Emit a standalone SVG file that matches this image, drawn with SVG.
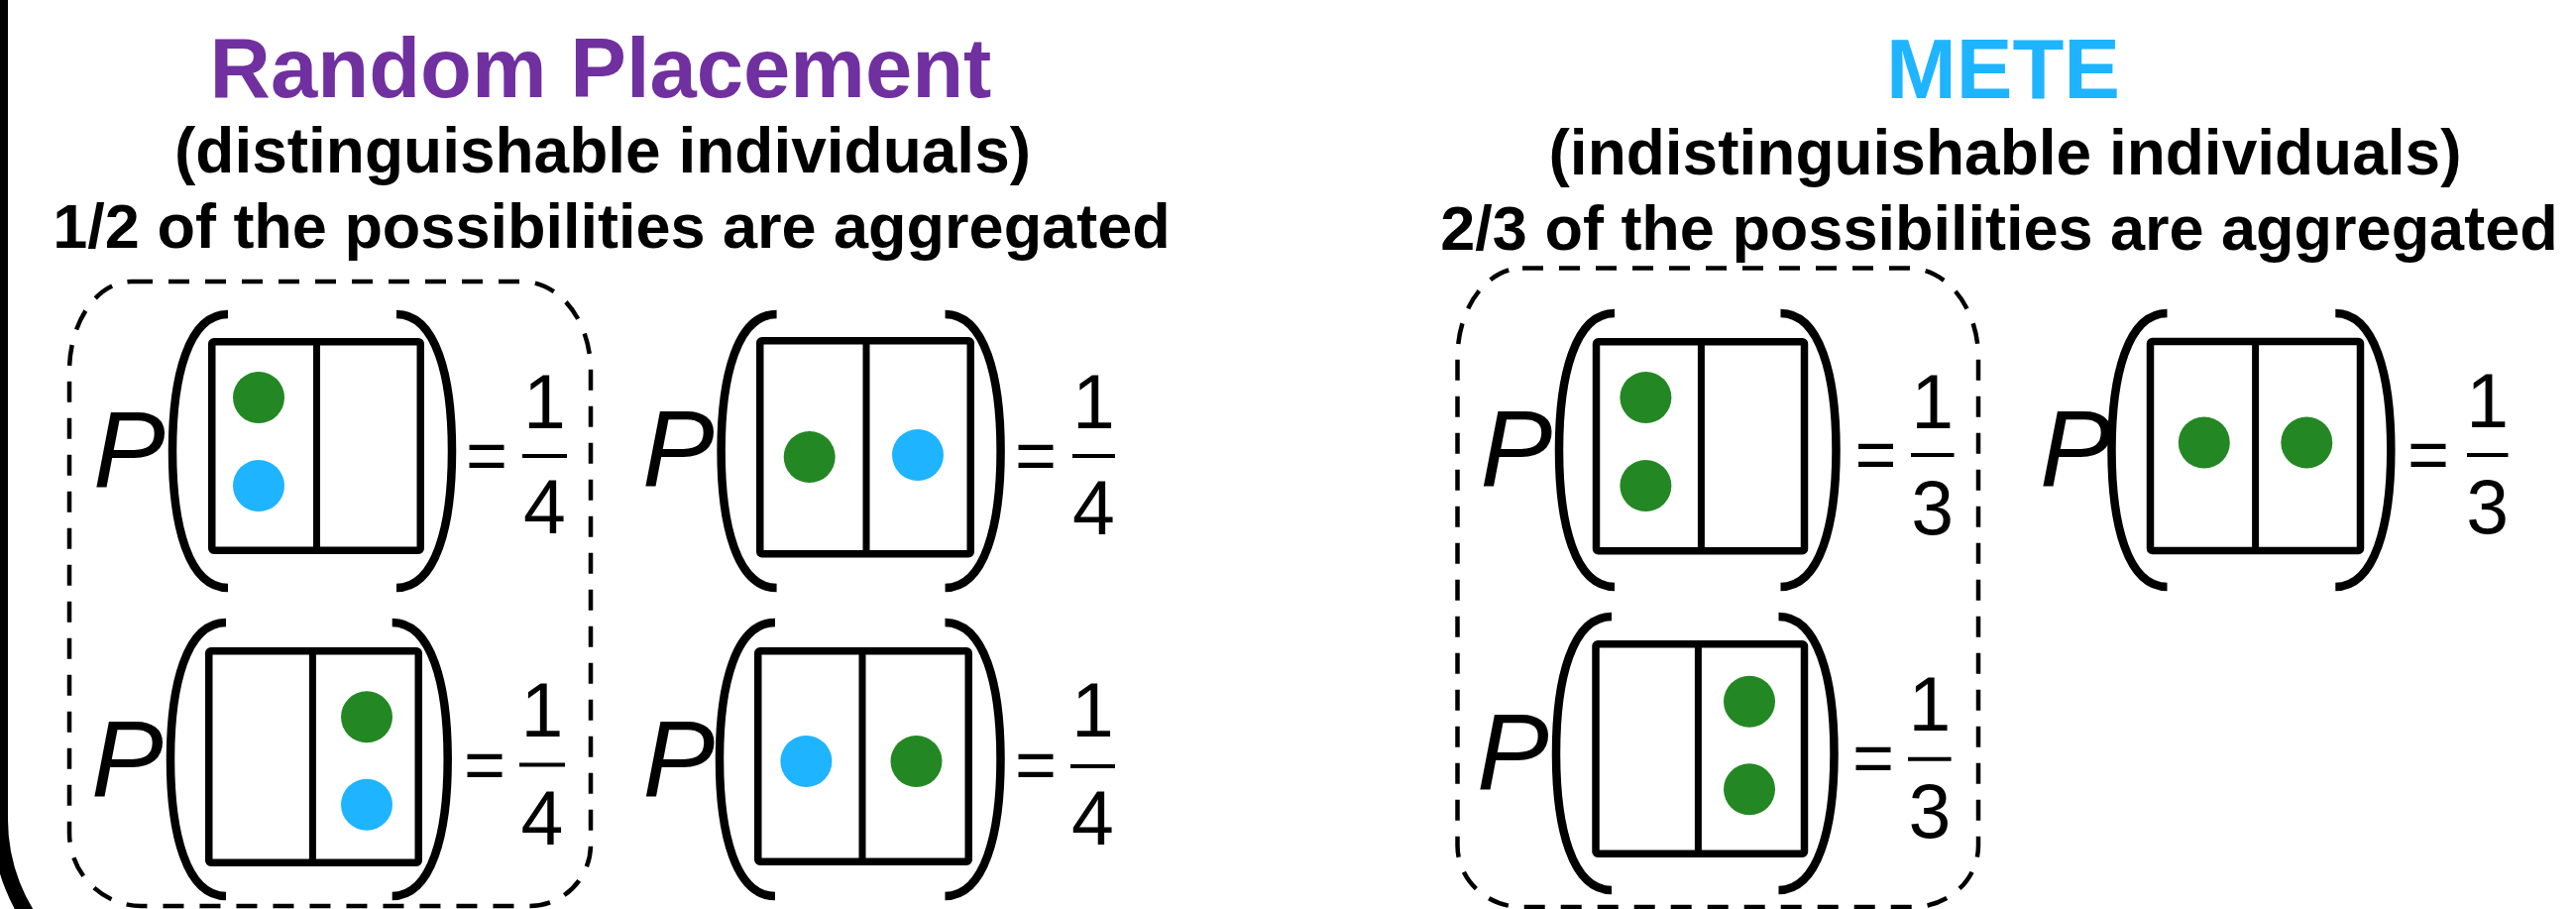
<svg xmlns="http://www.w3.org/2000/svg" xmlns:xlink="http://www.w3.org/1999/xlink" width="2599" height="917" viewBox="0 0 2599 917">
  <style>
    .head { font-family: "Liberation Sans", Arial, sans-serif; font-weight: bold; text-anchor: middle; fill: #000; }
    .title { font-size: 85px; }
    .sub { font-size: 64px; }
    .note { font-size: 63px; }
    .group { fill: none; stroke: #000; stroke-width: 4.5; stroke-dasharray: 21 16; }
    .box { fill: #fff; stroke: #000; stroke-width: 7.5; stroke-linejoin: round; }
    .div { stroke: #000; stroke-width: 7; }
    .paren { fill: none; stroke: #000; stroke-width: 8.5; stroke-linecap: butt; }
    .p { font-family: "Liberation Sans", Arial, sans-serif; font-style: italic; font-size: 109px; fill: #000; }
    .eq { font-family: "Liberation Sans", Arial, sans-serif; font-size: 72px; fill: #000; }
    .dig { font-family: "Liberation Sans", Arial, sans-serif; font-size: 77px; fill: #000; text-anchor: middle; }
    .bar { stroke: #000; stroke-width: 4; }
    .g { fill: #238823; }
    .b { fill: #1EB4FF; }
  </style>
  <defs>
    <!-- tall parentheses, origin at the top end of the stroke centre line -->
    <path id="lp" class="paren" d="M56,0 C16,0 0,63 0,138 C0,213 16,276 56,276"/>
    <path id="rp" class="paren" d="M0,0 C40,0 56,63 56,138 C56,213 40,276 0,276"/>
  </defs>

  <rect width="2599" height="917" fill="#fff"/>

  <!-- frame edge on the left -->
  <rect x="0" y="-500" width="3000" height="1508" rx="181" fill="none" stroke="#000" stroke-width="16"/>

  <!-- headings -->
  <g id="heading-random">
    <text class="head title" x="606" y="98" style="fill:#7030A0">Random Placement</text>
    <text class="head sub" x="608" y="174">(distinguishable individuals)</text>
    <text class="head note" x="617" y="250">1/2 of the possibilities are aggregated</text>
  </g>
  <g id="heading-mete">
    <text class="head title" x="2021" y="99" style="fill:#1EB4FF">METE</text>
    <text class="head sub" x="2023" y="176">(indistinguishable individuals)</text>
    <text class="head note" x="2017" y="252">2/3 of the possibilities are aggregated</text>
  </g>

  <!-- dashed outlines around the aggregated states -->
  <g id="aggregated-random">
    <path class="group" d="M133,284 H527 A69,90 0 0 1 596,374 V852 A62,62 0 0 1 534,914 H143 A73,74 0 0 1 70,840 V374 A63,90 0 0 1 133,284 Z"/>
  </g>
  <g id="aggregated-mete">
    <path class="group" d="M1536,270.5 H1925.5 A70.5,90 0 0 1 1996,360.5 V853 A66,62 0 0 1 1930,915 H1535.5 A65,62 0 0 1 1470.5,853 V360.5 A65.5,90 0 0 1 1536,270.5 Z"/>
  </g>

  <!-- Random placement: both in left cell -->
  <g id="rp-left">
    <text class="p" x="94" y="491">P</text>
    <use xlink:href="#lp" x="174" y="317"/>
    <rect class="box" x="213.75" y="344.75" width="210.5" height="210.5" rx="2"/>
    <line class="div" x1="319.5" y1="345" x2="319.5" y2="555"/>
    <circle class="g" cx="261" cy="401" r="26"/>
    <circle class="b" cx="261" cy="490" r="26"/>
    <use xlink:href="#rp" x="400" y="317"/>
    <text class="eq" x="470" y="483.5">=</text>
    <line class="bar" x1="527" y1="460" x2="572" y2="460"/>
    <text class="dig" x="549.5" y="432">1</text>
    <text class="dig" x="549.5" y="538">4</text>
  </g>

  <!-- Random placement: green left, blue right -->
  <g id="rp-split-gb">
    <text class="p" x="648" y="490">P</text>
    <use xlink:href="#lp" x="727.6" y="317"/>
    <rect class="box" x="766.75" y="343.75" width="212.5" height="215" rx="2"/>
    <line class="div" x1="874" y1="344" x2="874" y2="559"/>
    <circle class="g" cx="816.7" cy="461" r="26"/>
    <circle class="b" cx="926" cy="459" r="26"/>
    <use xlink:href="#rp" x="953.6" y="317"/>
    <text class="eq" x="1024" y="483.5">=</text>
    <line class="bar" x1="1082" y1="460" x2="1125" y2="460"/>
    <text class="dig" x="1103.5" y="432">1</text>
    <text class="dig" x="1103.5" y="539">4</text>
  </g>

  <!-- Random placement: both in right cell -->
  <g id="rp-right">
    <text class="p" x="92" y="803">P</text>
    <use xlink:href="#lp" x="172" y="628"/>
    <rect class="box" x="210.75" y="656.75" width="211.5" height="213.5" rx="2"/>
    <line class="div" x1="315.4" y1="657" x2="315.4" y2="870"/>
    <circle class="g" cx="370" cy="723.3" r="26"/>
    <circle class="b" cx="370" cy="811.7" r="26"/>
    <use xlink:href="#rp" x="395.7" y="628"/>
    <text class="eq" x="468" y="795.7">=</text>
    <line class="bar" x1="524" y1="771.5" x2="570" y2="771.5"/>
    <text class="dig" x="547" y="743">1</text>
    <text class="dig" x="547" y="852">4</text>
  </g>

  <!-- Random placement: blue left, green right -->
  <g id="rp-split-bg">
    <text class="p" x="648.6" y="803">P</text>
    <use xlink:href="#lp" x="726" y="628"/>
    <rect class="box" x="764.75" y="656.75" width="212.5" height="212.5" rx="2"/>
    <line class="div" x1="870" y1="657" x2="870" y2="869"/>
    <circle class="b" cx="813.4" cy="768" r="26"/>
    <circle class="g" cx="924.5" cy="768" r="26"/>
    <use xlink:href="#rp" x="953.5" y="628"/>
    <text class="eq" x="1024" y="796">=</text>
    <line class="bar" x1="1080" y1="773" x2="1125" y2="773"/>
    <text class="dig" x="1102.5" y="743">1</text>
    <text class="dig" x="1102.5" y="852">4</text>
  </g>

  <!-- METE: both in left cell -->
  <g id="mete-left">
    <text class="p" x="1493.4" y="490">P</text>
    <use xlink:href="#lp" x="1573" y="316"/>
    <rect class="box" x="1610.5" y="344.75" width="210" height="211" rx="2"/>
    <line class="div" x1="1716.4" y1="345" x2="1716.4" y2="556"/>
    <circle class="g" cx="1660.4" cy="401" r="26"/>
    <circle class="g" cx="1660.4" cy="490" r="26"/>
    <use xlink:href="#rp" x="1796.5" y="316"/>
    <text class="eq" x="1871.5" y="483">=</text>
    <line class="bar" x1="1928" y1="459" x2="1971.5" y2="459"/>
    <text class="dig" x="1949.7" y="431.7">1</text>
    <text class="dig" x="1949.7" y="539">3</text>
  </g>

  <!-- METE: one in each cell -->
  <g id="mete-split">
    <text class="p" x="2058" y="490">P</text>
    <use xlink:href="#lp" x="2130.5" y="316"/>
    <rect class="box" x="2169.5" y="344.5" width="212" height="211" rx="2"/>
    <line class="div" x1="2275.6" y1="345" x2="2275.6" y2="555"/>
    <circle class="g" cx="2223.8" cy="446.5" r="26"/>
    <circle class="g" cx="2327.3" cy="446.5" r="26"/>
    <use xlink:href="#rp" x="2356.3" y="316"/>
    <text class="eq" x="2429" y="483">=</text>
    <line class="bar" x1="2489" y1="459" x2="2530.5" y2="459"/>
    <text class="dig" x="2509.7" y="431">1</text>
    <text class="dig" x="2509.7" y="538">3</text>
  </g>

  <!-- METE: both in right cell -->
  <g id="mete-right">
    <text class="p" x="1490" y="796">P</text>
    <use xlink:href="#lp" x="1570" y="622"/>
    <rect class="box" x="1610" y="649.75" width="210.5" height="211.5" rx="2"/>
    <line class="div" x1="1713.4" y1="650" x2="1713.4" y2="861"/>
    <circle class="g" cx="1765" cy="707.7" r="26"/>
    <circle class="g" cx="1765" cy="796.3" r="26"/>
    <use xlink:href="#rp" x="1794.5" y="622"/>
    <text class="eq" x="1869" y="788.5">=</text>
    <line class="bar" x1="1925" y1="765.7" x2="1968.6" y2="765.7"/>
    <text class="dig" x="1946.8" y="736.7">1</text>
    <text class="dig" x="1946.8" y="845">3</text>
  </g>
</svg>
